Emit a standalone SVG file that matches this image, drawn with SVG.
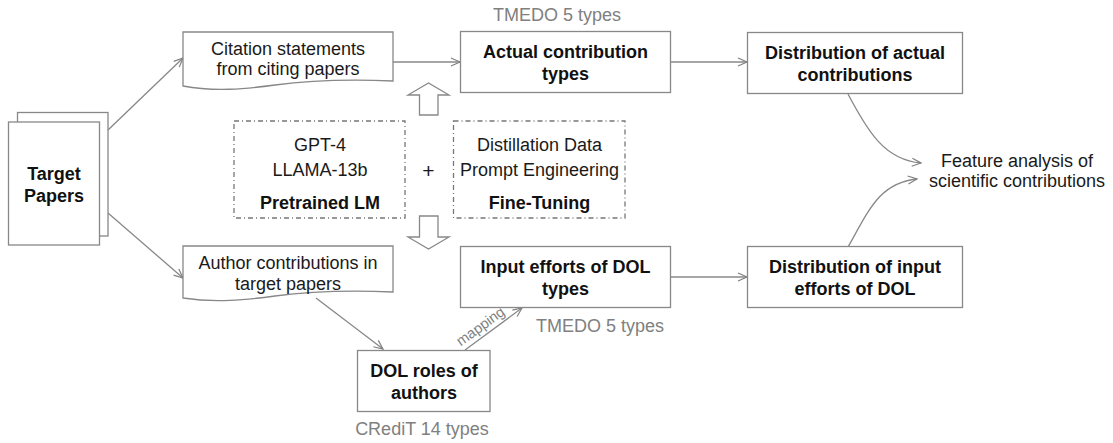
<svg xmlns="http://www.w3.org/2000/svg" width="1113" height="443" viewBox="0 0 1113 443">
<defs>
<marker id="arr" markerWidth="12" markerHeight="12" refX="10" refY="5" orient="auto" markerUnits="userSpaceOnUse" overflow="visible">
<path d="M1,1 L10,5 L1,9" fill="none" stroke="#808080" stroke-width="1.2"/>
</marker>
<style>
.box{fill:#fff;stroke:#888;stroke-width:1.3}
.dash{fill:none;stroke:#777;stroke-width:1.3;stroke-dasharray:5 3 1 3}
.t{font-family:"Liberation Sans",Arial,sans-serif;font-size:18px;fill:#1a1a1a;text-anchor:middle}
.b{font-weight:bold;fill:#111}
.g{fill:#808080}
.c{fill:none;stroke:#888;stroke-width:1.3;marker-end:url(#arr)}
.blk{fill:#fff;stroke:#888;stroke-width:1.3}
</style>
</defs>
<rect width="1113" height="443" fill="#fff"/>

<g id="connectors">
<path class="c" d="M108,130 L183,58"/>
<path class="c" d="M108,213 L183,278"/>
<path class="c" d="M393,62 L460,62"/>
<path class="c" d="M671,62 L747,62"/>
<path class="c" d="M316,298 L383,349"/>
<path class="c" d="M465,350 L522,308"/>
<path class="c" d="M671,277 L747,277"/>
<path class="c" d="M848,94 C868,132 885,160 921,163"/>
<path class="c" d="M848,247 C870,208 880,183 917,179"/>
<text class="t g" style="font-size:14.5px" transform="translate(481,327) rotate(-36)" x="0" y="4">mapping</text>
</g>

<g id="target-papers">
<rect class="box" x="17.5" y="112.5" width="90.5" height="123.5"/>
<rect class="box" x="8.5" y="122" width="91" height="123"/>
<text class="t b" x="54" y="180">Target</text>
<text class="t b" x="54" y="202">Papers</text>
</g>

<g id="citation">
<path class="box" d="M183,32 H393 V81 C345,79 305,81 275,85 C245,89 215,92 183,86 Z"/>
<text class="t" x="288" y="55">Citation statements</text>
<text class="t" x="288" y="75">from citing papers</text>
</g>

<g id="author-contrib">
<path class="box" d="M183,246 H393 V292 C345,290 305,292 275,296 C245,300 215,303 183,298 Z"/>
<text class="t" x="288" y="269">Author contributions in</text>
<text class="t" x="288" y="290">target papers</text>
</g>

<g id="actual-types">
<rect class="box" x="460.5" y="31.5" width="210" height="61"/>
<text class="t b" x="565.5" y="58">Actual contribution</text>
<text class="t b" x="565.5" y="80">types</text>
<text class="t g" x="557" y="21">TMEDO 5 types</text>
</g>

<g id="dist-actual">
<rect class="box" x="747.5" y="32.5" width="215" height="61"/>
<text class="t b" x="855" y="59">Distribution of actual</text>
<text class="t b" x="855" y="81">contributions</text>
</g>

<g id="input-efforts">
<rect class="box" x="460.5" y="246.5" width="210" height="61"/>
<text class="t b" x="565.5" y="273">Input efforts of DOL</text>
<text class="t b" x="565.5" y="295">types</text>
<text class="t g" x="600" y="332">TMEDO 5 types</text>
</g>

<g id="dist-input">
<rect class="box" x="747.5" y="246.5" width="215" height="61"/>
<text class="t b" x="855" y="273">Distribution of input</text>
<text class="t b" x="855" y="295">efforts of DOL</text>
</g>

<g id="feature-analysis">
<text class="t" x="1017" y="167">Feature analysis of</text>
<text class="t" x="1017" y="187">scientific contributions</text>
</g>

<g id="dol-roles">
<rect class="box" x="357.5" y="350.5" width="132.5" height="61"/>
<text class="t b" x="424" y="377">DOL roles of</text>
<text class="t b" x="424" y="399">authors</text>
<text class="t g" x="422" y="435">CRediT 14 types</text>
</g>

<g id="pretrained-lm">
<rect class="dash" x="234" y="121" width="171" height="97"/>
<text class="t" x="320" y="151">GPT-4</text>
<text class="t" x="320" y="176">LLAMA-13b</text>
<text class="t b" x="320" y="209">Pretrained LM</text>
</g>

<g id="plus">
<text class="t" style="font-size:21px" x="428.5" y="178">+</text>
</g>

<g id="fine-tuning">
<rect class="dash" x="453.5" y="121" width="171.5" height="97"/>
<text class="t" x="539.5" y="151">Distillation Data</text>
<text class="t" x="539.5" y="176">Prompt Engineering</text>
<text class="t b" x="539.5" y="209">Fine-Tuning</text>
</g>

<g id="up-arrow">
<path class="blk" d="M419.5,115 V95 H408 L428.5,83 L449,95 H438 V115 Z"/>
</g>
<g id="down-arrow">
<path class="blk" d="M419.5,216 V237 H408 L428.5,249 L449,237 H438 V216 Z"/>
</g>
</svg>
